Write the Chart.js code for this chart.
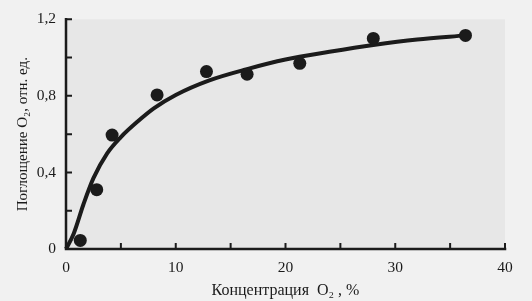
<!DOCTYPE html>
<html>
<head>
<meta charset="utf-8">
<script src="https://cdn.jsdelivr.net/npm/chart.js@4/dist/chart.umd.min.js"></script>
<style>
  html, body { margin:0; padding:0; background:#f1f1f1; }
  #wrap { width:532px; height:301px; }
</style>
</head>
<body>
<div id="wrap"><canvas id="c" width="532" height="301"></canvas></div>
<script>
// measured points
const pointX = [1.3, 2.8, 4.2, 8.3, 12.8, 16.5, 21.3, 28.0, 36.4];
const pointY = [0.045, 0.31, 0.595, 0.805, 0.927, 0.913, 0.97, 1.10, 1.116];
// fitted curve
const curveX = [0, 0.7, 1.6, 2.5, 3.75, 5, 6.5, 8, 10, 13, 16.5, 20, 24, 28, 32, 36.4];
const curveY = [0, 0.08, 0.235, 0.37, 0.50, 0.585, 0.665, 0.735, 0.805, 0.88, 0.94, 0.99, 1.03, 1.066, 1.095, 1.116];
// axis ticks
const xTicks = [0, 5, 10, 15, 20, 25, 30, 35, 40];
const yTicks = [0, 0.2, 0.4, 0.6, 0.8, 1.0, 1.2];
const xTitle = 'Концентрация  O\u2082 , %';
const yTitle = 'Поглощение O\u2082, отн. ед.';

const ink = '#1b1b1b';
const serif = "'Liberation Serif', 'DejaVu Serif', serif";

const zip = (xs, ys) => xs.map((x, i) => ({ x, y: ys[i] }));

// axes drawn by hand so the ticks point inward like the print
const axesPlugin = {
  id: 'axes',
  beforeDraw(chart){
    const { ctx, chartArea: a } = chart;
    ctx.save();
    ctx.fillStyle = '#e7e7e7';
    ctx.fillRect(a.left, a.top, a.right - a.left, a.bottom - a.top);
    ctx.restore();
  },
  beforeDatasetsDraw(chart){
    const { ctx, scales: { x, y } } = chart;
    const x0 = x.getPixelForValue(0), x1 = x.getPixelForValue(40);
    const y0 = y.getPixelForValue(0), y1 = y.getPixelForValue(1.2);
    ctx.save();
    ctx.strokeStyle = ink;
    ctx.lineWidth = 2.5;
    ctx.lineCap = 'square';
    ctx.beginPath();
    ctx.moveTo(x0, y1); ctx.lineTo(x0, y0); ctx.lineTo(x1, y0);
    ctx.stroke();
    ctx.lineWidth = 2;
    ctx.lineCap = 'butt';
    ctx.beginPath();
    xTicks.slice(1).forEach(v => {
      const px = x.getPixelForValue(v);
      ctx.moveTo(px, y0); ctx.lineTo(px, y0 - 6);
    });
    yTicks.slice(1).forEach(v => {
      const py = y.getPixelForValue(v);
      ctx.moveTo(x0, py); ctx.lineTo(x0 + 6, py);
    });
    ctx.stroke();
    ctx.restore();
  }
};

new Chart(document.getElementById('c'), {
  type: 'scatter',
  data: {
    datasets: [{
      data: zip(curveX, curveY),
      showLine: true,
      borderColor: ink,
      borderWidth: 4,
      pointRadius: 0,
      cubicInterpolationMode: 'monotone',
      clip: false,
      order: 2
    }, {
      data: zip(pointX, pointY),
      showLine: false,
      pointRadius: 6.5,
      pointBackgroundColor: ink,
      pointBorderWidth: 0,
      clip: false,
      order: 1
    }]
  },
  options: {
    responsive: false,
    animation: false,
    layout: { padding: { top: 18, right: 27, left: 0, bottom: 0 } },
    plugins: { legend: { display: false }, tooltip: { enabled: false } },
    scales: {
      x: {
        type: 'linear', min: 0, max: 40,
        border: { display: false },
        grid: { display: false, drawTicks: false },
        afterFit: s => { s.height = 52; },
        ticks: {
          stepSize: 5, padding: 10, color: ink, maxRotation: 0,
          font: { family: serif, size: 15.5 },
          callback: v => (v % 10 === 0 ? String(v) : '')
        },
        title: {
          display: true, text: xTitle, color: ink,
          font: { family: serif, size: 16 },
          padding: { top: 0, bottom: 1 }
        }
      },
      y: {
        type: 'linear', min: 0, max: 1.2,
        border: { display: false },
        grid: { display: false, drawTicks: false },
        afterFit: s => { s.width = 66; },
        ticks: {
          stepSize: 0.2, padding: 10, color: ink,
          font: { family: serif, size: 15.5 },
          callback: v => {
            const k = Math.round(v * 10);
            if (k % 4 !== 0) return '';
            return k === 0 ? '0' : (k / 10).toFixed(1).replace('.', ',');
          }
        },
        title: {
          display: true, text: yTitle, color: ink,
          font: { family: serif, size: 15 },
          padding: { top: 14, bottom: 0 }
        }
      }
    }
  },
  plugins: [axesPlugin]
});
</script>
</body>
</html>
